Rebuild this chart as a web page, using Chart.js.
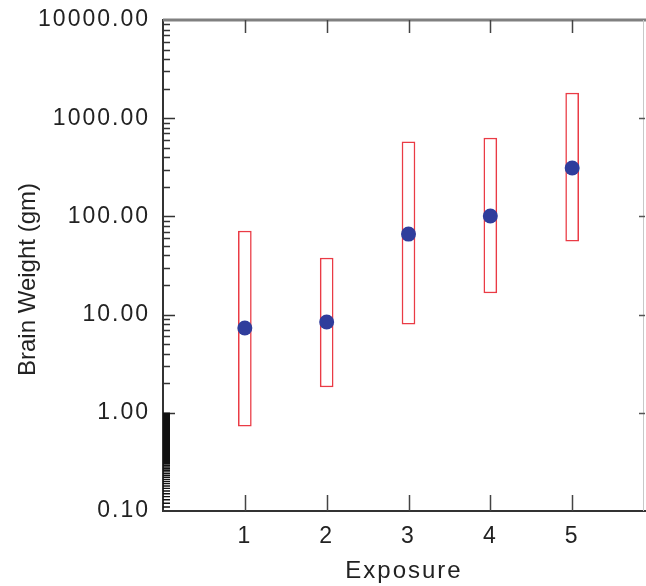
<!DOCTYPE html>
<html>
<head>
<meta charset="utf-8">
<script src="https://cdn.jsdelivr.net/npm/chart.js@4.4.1/dist/chart.umd.min.js"></script>
<style>
  html, body { margin: 0; padding: 0; background: #fff; overflow: hidden; }
  #wrap { width: 646px; height: 586px; }
</style>
</head>
<body>
<div id="wrap"><canvas id="c" width="646" height="586"></canvas></div>
<script>
// ---- data ----
const exposures   = [1, 2, 3, 4, 5];
const lowValues   = [0.73, 1.83, 8.0, 16.6, 56];
const highValues  = [71, 37.7, 573, 629, 1805];
const meanValues  = [7.3, 8.4, 66, 101, 311];
const yTickValues = [0.1, 1, 10, 100, 1000, 10000];
const xTickValues = [1, 2, 3, 4, 5];

const FONT = "'Liberation Sans', Arial, Helvetica, sans-serif";
const TEXT = '#222';
const TICK_SPACING = '2px';

function wrapTitle(scale, spacing, dy) {
  if (scale._wrappedTitle) return;
  const orig = scale.drawTitle;
  scale.drawTitle = function () {
    const c = this.ctx;
    c.save();
    c.letterSpacing = spacing;
    c.translate(0, dy);
    orig.call(this);
    c.restore();
  };
  scale._wrappedTitle = true;
}

const letterSpacingPlugin = {
  id: 'spacing',
  beforeLayout(chart) { chart.ctx.letterSpacing = TICK_SPACING; },
  beforeDraw(chart) {
    chart.ctx.letterSpacing = TICK_SPACING;
    wrapTitle(chart.scales.y, '0px', 14);
    wrapTitle(chart.scales.x, '2px', 0);
  }
};

const axisDecor = {
  id: 'axisDecor',
  afterDatasetsDraw(chart) {
    const {ctx, chartArea: a, scales: {x, y}} = chart;
    ctx.save();
    ctx.letterSpacing = '0px';
    // top frame line
    ctx.strokeStyle = '#808080'; ctx.lineWidth = 3;
    ctx.beginPath(); ctx.moveTo(a.left, a.top); ctx.lineTo(a.right + 1, a.top); ctx.stroke();
    // right frame line (faint)
    ctx.strokeStyle = '#c8c8c8'; ctx.lineWidth = 1;
    ctx.beginPath(); ctx.moveTo(a.right - 1.5, a.top); ctx.lineTo(a.right - 1.5, a.bottom); ctx.stroke();

    ctx.strokeStyle = '#333'; ctx.lineWidth = 1.5;
    const decades = [1, 10, 100, 1000];
    ctx.beginPath();
    decades.forEach(d => {
      const py = Math.round(y.getPixelForValue(d)) + 0.5;
      ctx.moveTo(a.left, py); ctx.lineTo(a.left + 12, py);
    });
    decades.forEach(d => {
      for (let m = 2; m <= 9; m++) {
        const py = Math.round(y.getPixelForValue(d * m)) + 0.5;
        ctx.moveTo(a.left, py); ctx.lineTo(a.left + 7, py);
      }
    });
    ctx.stroke();
    // dense minor ticks in the lowest decade
    ctx.lineWidth = 1.4;
    ctx.strokeStyle = '#111';
    ctx.beginPath();
    for (let k = 11; k <= 99; k++) {
      const py = y.getPixelForValue(k / 100);
      ctx.moveTo(a.left, py); ctx.lineTo(a.left + 7, py);
    }
    ctx.stroke();
    // right axis major ticks (inward)
    ctx.strokeStyle = '#555'; ctx.lineWidth = 1.5;
    ctx.beginPath();
    decades.forEach(d => {
      const py = Math.round(y.getPixelForValue(d)) + 0.5;
      ctx.moveTo(a.right, py); ctx.lineTo(a.right - 6, py);
    });
    ctx.stroke();
    // bottom and top category ticks (inward)
    ctx.strokeStyle = '#444'; ctx.lineWidth = 1.5;
    ctx.beginPath();
    xTickValues.forEach(v => {
      const px = Math.round(x.getPixelForValue(v)) + 0.5;
      ctx.moveTo(px, a.bottom); ctx.lineTo(px, a.bottom - 16);
      ctx.moveTo(px, a.top); ctx.lineTo(px, a.top + 13);
    });
    ctx.stroke();
    ctx.restore();
  }
};

new Chart(document.getElementById('c'), {
  data: {
    datasets: [
      {
        type: 'scatter',
        label: 'Mean',
        data: exposures.map((e, i) => ({x: e, y: meanValues[i]})),
        pointRadius: 7.5,
        pointHoverRadius: 7.5,
        pointBackgroundColor: '#2f3d9c',
        pointBorderWidth: 0,
        order: 0
      },
      {
        type: 'bar',
        label: 'Range',
        data: exposures.map((e, i) => ({x: e, y: [lowValues[i], highValues[i]]})),
        backgroundColor: 'rgba(255,255,255,1)',
        borderColor: '#ea3b45',
        borderWidth: 1.5,
        borderSkipped: false,
        barThickness: 13,
        order: 1
      }
    ]
  },
  options: {
    responsive: false,
    animation: false,
    events: [],
    layout: { autoPadding: false, padding: { left: 0, right: 1, top: 20, bottom: 0 } },
    plugins: { legend: { display: false }, tooltip: { enabled: false } },
    scales: {
      x: {
        type: 'linear',
        offset: false,
        min: 0,
        max: 5.89,
        afterBuildTicks(s) { s.ticks = xTickValues.map(v => ({value: v})); },
        afterFit(s) { s.height = 75; s.paddingLeft = 0; s.paddingRight = 0; },
        grid: { display: false, drawTicks: true, tickLength: 9 },
        border: { display: true, color: '#333', width: 2 },
        ticks: {
          color: TEXT,
          font: { family: FONT, size: 23 },
          padding: 3,
          callback: v => String(v)
        },
        title: {
          display: true,
          text: 'Exposure',
          color: TEXT,
          font: { family: FONT, size: 24 },
          padding: { top: 0, bottom: 0 }
        }
      },
      y: {
        type: 'logarithmic',
        min: 0.1,
        max: 10000,
        afterBuildTicks(s) { s.ticks = yTickValues.map(v => ({value: v})); },
        afterFit(s) { s.width = 163; },
        grid: { display: false, drawTicks: true, tickLength: 10 },
        border: { display: true, color: '#333', width: 2 },
        ticks: {
          color: TEXT,
          font: { family: FONT, size: 23 },
          padding: 3,
          callback: v => Number(v).toFixed(2)
        },
        title: {
          display: true,
          text: 'Brain Weight (gm)',
          color: TEXT,
          font: { family: FONT, size: 24 },
          padding: { top: 14, bottom: 0 }
        }
      }
    }
  },
  plugins: [letterSpacingPlugin, axisDecor]
});
</script>
</body>
</html>
